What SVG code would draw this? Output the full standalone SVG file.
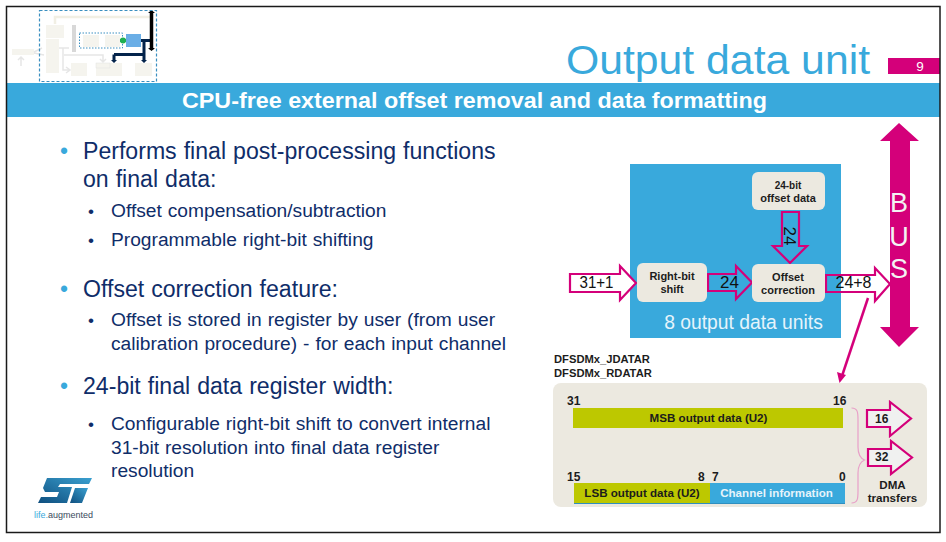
<svg xmlns="http://www.w3.org/2000/svg" width="946" height="542" viewBox="0 0 946 542">
<style>
text{font-family:"Liberation Sans",Arial,sans-serif}
.l1{font-size:23.100px;fill:#0f2d69;word-spacing:.6px}
.l2{font-size:19.200px;fill:#0f2d69;word-spacing:.6px}
.b1{font-size:23px;fill:#39a9dc}
.b2{font-size:17px;fill:#0f2d69}
.box{fill:#ece9e0}
.bl{font-size:11px;font-weight:bold;fill:#1c1c1c;text-anchor:middle}
.bw{font-size:11.600px;font-weight:bold;fill:#1c1c1c;text-anchor:middle}
.pk{fill:none;stroke:#d4007a;stroke-width:2.200}
.w{fill:#fff;stroke:#d4007a;stroke-width:2.200}
.g{fill:#f0f1f0;stroke:#d4007a;stroke-width:2.200}
.n{font-size:17px;fill:#111;text-anchor:middle}
.r{font-size:12px;font-weight:bold;fill:#1c1c1c}
.t{fill:#f5f4ee}
.tl{fill:none;stroke:#e6e6e6;stroke-width:1.500}
.dk{fill:none;stroke:#03234b;stroke-width:3}
.reg{font-size:11.200px;font-weight:bold;fill:#1c1c1c}
</style>
<defs><linearGradient id="lg" x1="0" y1="1" x2="1" y2="0"><stop offset="0" stop-color="#0f4f7f"/><stop offset="1" stop-color="#3aa0d0"/></linearGradient></defs>
<rect x="0" y="0" width="946" height="542" fill="#fff"/>
<g id="thumbnail">
<rect class="t" x="46" y="25" width="18" height="13"/><rect class="t" x="46" y="39" width="13" height="34"/><rect class="t" x="12" y="49" width="22" height="6"/>
<rect class="t" x="71" y="63" width="16" height="13"/><rect class="t" x="96" y="63" width="26" height="13"/><rect x="96" y="63" width="14" height="5" fill="#f5f4ee" stroke="#e2e2e2" stroke-width=".5"/><rect class="t" x="135" y="63" width="17" height="13"/>
<rect class="t" x="83" y="35" width="16" height="12"/><rect class="t" x="105" y="35" width="15" height="12"/>
<rect x="72" y="25" width="4" height="27" fill="#d8d8d8"/>
<path class="tl" d="M21 66V57M18 60L21 57L24 60M34 53L44 55M34 52L42 48M59 48H69M63 48V70H70M66 67L70 70L66 73M64 55H103V62M100 59L103 62L106 59"/>
<path d="M150 17H55V24" fill="none" stroke="#f1efe4" stroke-width="2.500"/>
<rect x="79.500" y="33" width="43" height="15" fill="none" stroke="#3a8fc0" stroke-width="1" stroke-dasharray="1.500 1.500"/>
<rect x="126" y="34" width="15" height="13" fill="#6aaee6"/>
<rect x="120" y="39" width="6" height="3" fill="#1faf50"/><circle cx="123" cy="40.500" r="3" fill="#1faf50"/>
<path class="dk" d="M141 40.500H150M144 41V61M114 54.500H144M114 54.500V60"/>
<path d="M111 60h6l-3 3zM141 60h6l-3 3z" fill="#03234b"/>
<path d="M151.500 13V50" stroke="#000" stroke-width="3.500" fill="none"/>
<path d="M148 13l3.500-3 3.500 3zM148 48l3.500 3 3.500-3z" fill="#000"/>
<rect x="39.500" y="10.500" width="117" height="71" fill="none" stroke="#3a8fc0" stroke-width="1.200" stroke-dasharray="3 2"/>
</g>
<g id="header">
<text x="566" y="74" font-size="41" fill="#39a9dc" textLength="304" lengthAdjust="spacingAndGlyphs">Output data unit</text>
<rect x="888" y="58" width="52" height="16" fill="#d4007a"/>
<text x="920" y="71" font-size="13.500" fill="#fff" text-anchor="middle">9</text>
<rect x="7" y="83" width="933" height="34" fill="#39a9dc"/>
<text x="182" y="108" font-size="22" font-weight="bold" fill="#fff" textLength="585" lengthAdjust="spacingAndGlyphs">CPU-free external offset removal and data formatting</text>
</g>
<g id="bullets">
<text class="b1" x="60" y="159">•</text>
<text class="l1" x="83" y="159">Performs final post-processing functions</text>
<text class="l1" x="83" y="187">on final data:</text>
<text class="b2" x="88" y="217">•</text><text class="l2" x="111" y="217">Offset compensation/subtraction</text>
<text class="b2" x="88" y="246">•</text><text class="l2" x="111" y="246">Programmable right-bit shifting</text>
<text class="b1" x="60" y="297">•</text>
<text class="l1" x="83" y="297">Offset correction feature:</text>
<text class="b2" x="88" y="326">•</text><text class="l2" x="111" y="326">Offset is stored in register by user (from user</text>
<text class="l2" x="111" y="350">calibration procedure) - for each input channel</text>
<text class="b1" x="60" y="394">•</text>
<text class="l1" x="83" y="394">24-bit final data register width:</text>
<text class="b2" x="88" y="430">•</text><text class="l2" x="111" y="430">Configurable right-bit shift to convert internal</text>
<text class="l2" x="111" y="454">31-bit resolution into final data register</text>
<text class="l2" x="111" y="477">resolution</text>
</g>
<g id="st-logo">
<path d="M47 478H92L89 484H60L58 487H72L67 503H38L41 497H57L59 492H45L43 488Z" fill="url(#lg)"/>
<path d="M75 488H88L82 503H70Z" fill="url(#lg)"/>
<text x="34" y="518" font-size="9" fill="#39a9dc">life.<tspan fill="#3a4a5c">augmented</tspan></text>
</g>
<g id="output-units">
<rect x="630" y="164" width="211" height="174" fill="#39a9dc"/>
<text x="743.500" y="329" font-size="19.300" fill="#e6f4fb" text-anchor="middle">8 output data units</text>
</g>
<g id="connectors">
<path class="w" d="M570 274H620V266L636 283L620 300V292H570Z"/>
<path class="pk" d="M708 274H736V266L752 282.500L736 299V291H708Z"/>
<path class="pk" d="M782 212H799V246H807L790 263L773 246H782Z"/>
<path d="M841 275H875V268L890 284L875 301V292H841Z" fill="#fff"/>
<path class="pk" d="M826 275H875V268L890 284L875 301V292H826Z"/>
<path d="M868 298L842 376" stroke="#d4007a" stroke-width="2.500" fill="none"/>
<path d="M839.500 383L837 372L846 375Z" fill="#d4007a"/>
</g>
<g id="labels-connectors">
<text class="n" x="596.500" y="288" textLength="34" lengthAdjust="spacingAndGlyphs">31+1</text>
<text class="n" x="729.500" y="288">24</text>
<text class="n" x="0" y="0" transform="translate(784,236) rotate(90)">24</text>
<text class="n" x="853.500" y="288" textLength="36" lengthAdjust="spacingAndGlyphs">24+8</text>
</g>
<g id="bus">
<path d="M899 123L919 141H910V327H919L899 347L880 327H890V141H880Z" fill="#d4007a"/>
<text x="899" y="212" font-size="27" fill="#f3f3f3" text-anchor="middle">B</text>
<text x="899" y="246" font-size="27" fill="#f3f3f3" text-anchor="middle">U</text>
<text x="899" y="278" font-size="27" fill="#f3f3f3" text-anchor="middle">S</text>
</g>
<g id="right-bit-shift">
<rect class="box" x="637" y="263" width="70" height="39" rx="6"/>
<text class="bl" x="672" y="280">Right-bit</text><text class="bl" x="672" y="293">shift</text>
</g>
<g id="offset-correction">
<rect class="box" x="752" y="264" width="73" height="38" rx="6"/>
<text class="bl" x="788" y="281">Offset</text><text class="bl" x="788" y="294">correction</text>
</g>
<g id="offset-data">
<rect class="box" x="752" y="172" width="73" height="38" rx="6"/>
<text class="bl" x="788" y="189" style="font-size:10px">24-bit</text><text class="bl" x="788" y="202">offset data</text>
</g>
<g id="registers">
<text class="reg" x="554" y="363">DFSDMx_JDATAR</text>
<text class="reg" x="554" y="377">DFSDMx_RDATAR</text>
<rect class="box" x="553" y="383" width="374" height="124" rx="8"/>
<path d="M851.500 408C858 408 858 413 858 420V447C858 454 860 458 864.500 460C860 462 858 466 858 473V491C858 498 858 503 851.500 503" fill="none" stroke="#e8a0c8" stroke-width="1.200"/>
<text class="r" x="567" y="405">31</text><text class="r" x="833" y="405">16</text>
<rect x="573" y="408" width="270" height="20" fill="#bdc800"/>
<text class="bw" x="708.500" y="422">MSB output data (U2)</text>
<text class="r" x="567" y="481">15</text><text class="r" x="698" y="481">8</text><text class="r" x="712" y="481">7</text><text class="r" x="839" y="481">0</text>
<rect x="574" y="483" width="136" height="20" fill="#bdc800"/>
<rect x="710" y="483" width="135" height="20" fill="#39a9dc"/>
<path d="M574 503.500H845" stroke="#2f8fbf" stroke-width="1"/>
<text class="bw" x="642" y="497">LSB output data (U2)</text>
<text class="bw" x="776.500" y="497" style="fill:#e6f4fb">Channel information</text>
</g>
<g id="dma-16">
<path class="g" d="M867 410H890V402L911 418.500L890 436V427H867Z"/>
<text class="r" x="875" y="422.500">16</text>
</g>
<g id="dma-32">
<path class="g" d="M868 449H891V441L912 457.500L891 474V466H868Z"/>
<text class="r" x="875" y="461">32</text>
</g>
<g id="dma-label">
<text class="bw" x="892.500" y="489">DMA</text><text class="bw" x="892.500" y="502">transfers</text>
</g>
<rect id="frame" x="6.500" y="6.500" width="933.500" height="526" fill="none" stroke="#1a1a1a" stroke-width="1.500"/>
</svg>
